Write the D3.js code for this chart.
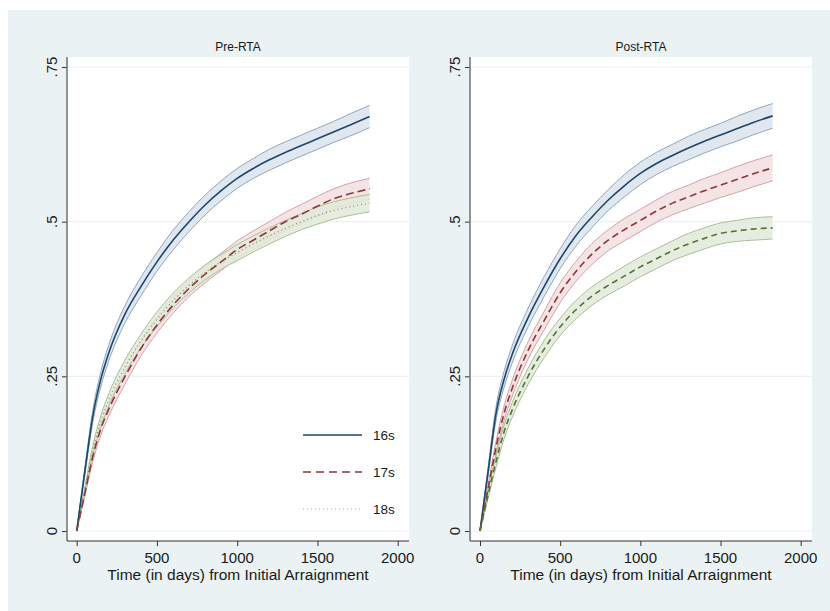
<!DOCTYPE html>
<html lang="en">
<head>
<meta charset="utf-8">
<title>cumulative incidence by age</title>
<script src="https://d3js.org/d3.v7.min.js"></script>
<style>
  body{margin:0;background:#fff;font-family:"Liberation Sans",Arial,Helvetica,sans-serif;}
  svg text{fill:#1a1a1a;}
</style>
</head>
<body>
<div id="chart"></div>
<script>
// days since initial arraignment at which the curves were read
var days = [0, 50, 100, 150, 200, 300, 400, 500, 600, 700, 800, 900, 1000, 1100, 1200, 1300, 1400, 1500, 1600, 1700, 1825]

// Pre-RTA estimates
var pre16 = [0, .095, .185, .245, .288, .350, .395, .435, .470, .500, .527, .550, .570, .586, .600, .612, .623, .634, .645, .656, .670]
var pre17 = [0, .060, .120, .165, .197, .249, .295, .333, .365, .392, .415, .435, .455, .470, .485, .500, .512, .525, .537, .545, .553]
var pre18 = [0, .065, .130, .177, .212, .265, .307, .342, .372, .397, .418, .435, .450, .464, .477, .489, .500, .510, .518, .524, .530]
// half width of the confidence bands
var pre16Ci = [0, .006, .010, .012, .013, .014, .015, .015, .016, .016, .016, .016, .016, .016, .017, .017, .017, .017, .017, .018, .018]
var pre17Ci = [0, .005, .008, .010, .011, .012, .012, .013, .013, .013, .014, .014, .014, .015, .015, .015, .016, .016, .016, .017, .017]
var pre18Ci = [0, .005, .008, .009, .010, .011, .011, .012, .012, .012, .012, .012, .013, .013, .013, .013, .013, .014, .014, .014, .014]

// Post-RTA estimates
var post16 = [0, .095, .190, .245, .285, .345, .395, .440, .478, .508, .535, .558, .578, .594, .607, .619, .630, .640, .650, .660, .671]
var post17 = [0, .068, .135, .190, .230, .292, .340, .385, .420, .448, .470, .487, .502, .517, .530, .540, .550, .559, .568, .577, .587]
var post18 = [0, .058, .112, .160, .195, .250, .294, .330, .358, .380, .397, .412, .427, .440, .453, .464, .473, .481, .485, .488, .490]
var post16Ci = [0, .007, .011, .013, .014, .015, .016, .016, .017, .017, .017, .018, .018, .018, .018, .019, .019, .019, .020, .020, .020]
var post17Ci = [0, .006, .010, .012, .013, .014, .015, .016, .016, .017, .017, .018, .018, .018, .019, .019, .020, .020, .021, .021, .021]
var post18Ci = [0, .006, .009, .011, .012, .013, .014, .014, .015, .015, .015, .016, .016, .016, .016, .017, .017, .017, .017, .018, .018]

var groups = ["16s", "17s", "18s"]
var xTicks = [0, 500, 1000, 1500, 2000]
var yTicks = [0, .25, .5, .75]
var xTitle = "Time (in days) from Initial Arraignment"

var w = 830, h = 611
var colors = {"16s": "#1a476f", "17s": "#90353b", "18s": "#55752f"}
var bandFill = {"16s": "#dbe3eb", "17s": "#f2dfe0", "18s": "#e2eadb"}
var bandEdge = {"16s": "#8ea6bf", "17s": "#d3a2a7", "18s": "#a9c093"}

var svg = d3.select("#chart").append("svg")
    .attr("width", w).attr("height", h)

// outer graph region
svg.append("rect").attr("x", 8).attr("y", 10).attr("width", w - 8).attr("height", h - 10)
    .attr("fill", "#eaf2f3")

var panels = [
  {title: "Pre-RTA", left: 67, right: 409, x0: 76.7, x1: 397.7,
   series: [pre16, pre17, pre18], ci: [pre16Ci, pre17Ci, pre18Ci],
   dash: ["", "8,4", "1,3"], legend: true},
  {title: "Post-RTA", left: 470, right: 812, x0: 480, x1: 800.7,
   series: [post16, post17, post18], ci: [post16Ci, post17Ci, post18Ci],
   dash: ["", "7,4", "6,4"], legend: false}
]

var plotTop = 57, plotBottom = 541

panels.forEach(function(p){
    var x = d3.scaleLinear().domain([0, 2000]).range([p.x0, p.x1])
    var y = d3.scaleLinear().domain([0, .75]).range([531, 67])
    var g = svg.append("g")

    g.append("rect").attr("x", p.left).attr("y", plotTop)
        .attr("width", p.right - p.left).attr("height", plotBottom - plotTop)
        .attr("fill", "#fff")

    // grid lines
    g.selectAll(".grid").data(yTicks).enter().append("line")
        .attr("x1", p.left).attr("x2", p.right)
        .attr("y1", function(d){ return y(d) }).attr("y2", function(d){ return y(d) })
        .attr("stroke", "#eaf2f3").attr("stroke-width", 1.2)

    // confidence bands
    var area = d3.area()
        .x(function(d){ return x(d.t) })
        .y0(function(d){ return y(d.v - d.c) })
        .y1(function(d){ return y(d.v + d.c) })
        .curve(d3.curveMonotoneX)
    var lineLo = d3.line().x(function(d){ return x(d.t) }).y(function(d){ return y(d.v - d.c) }).curve(d3.curveMonotoneX)
    var lineHi = d3.line().x(function(d){ return x(d.t) }).y(function(d){ return y(d.v + d.c) }).curve(d3.curveMonotoneX)
    var line = d3.line().x(function(d){ return x(d.t) }).y(function(d){ return y(d.v) }).curve(d3.curveMonotoneX)

    var rows = p.series.map(function(s, k){
        return days.map(function(t, i){ return {t: t, v: s[i], c: p.ci[k][i]} })
    })

    rows.forEach(function(r, k){
        var grp = groups[k]
        g.append("path").attr("d", area(r)).attr("fill", bandFill[grp]).attr("fill-opacity", .85)
        g.append("path").attr("d", lineLo(r)).attr("fill", "none").attr("stroke", bandEdge[grp]).attr("stroke-width", 1)
        g.append("path").attr("d", lineHi(r)).attr("fill", "none").attr("stroke", bandEdge[grp]).attr("stroke-width", 1)
    })
    rows.forEach(function(r, k){
        var grp = groups[k]
        g.append("path").attr("d", line(r)).attr("fill", "none")
            .attr("stroke", colors[grp]).attr("stroke-width", p.dash[k] == "1,3" ? 1.2 : 1.6)
            .attr("stroke-dasharray", p.dash[k])
            .attr("stroke-opacity", p.dash[k] == "1,3" ? .75 : 1)
    })

    // axes
    var yAxis = g.append("g").attr("transform", "translate(" + p.left + ",0)")
        .call(d3.axisLeft(y).tickValues(yTicks).tickSize(5).tickFormat(""))
    yAxis.select(".domain").remove()
    yAxis.selectAll("line").attr("stroke", "#333")
    g.append("line").attr("x1", p.left).attr("x2", p.left).attr("y1", plotTop).attr("y2", plotBottom)
        .attr("stroke", "#7a7a7a").attr("stroke-width", 1.6)
    g.selectAll(".ylab").data(yTicks).enter().append("text")
        .attr("transform", function(d){ return "translate(" + (p.left - 10) + "," + y(d) + ") rotate(-90)" })
        .attr("text-anchor", "middle").attr("font-size", 15)
        .text(function(d){ return d == 0 ? "0" : String(d).replace("0.", ".") })

    var xAxis = g.append("g").attr("transform", "translate(0," + plotBottom + ")")
        .call(d3.axisBottom(x).tickValues(xTicks).tickSize(5).tickFormat(""))
    xAxis.select(".domain").remove()
    xAxis.selectAll("line").attr("stroke", "#333")
    g.append("line").attr("x1", p.left).attr("x2", p.right).attr("y1", plotBottom).attr("y2", plotBottom)
        .attr("stroke", "#333").attr("stroke-width", 1.2)
    g.selectAll(".xlab").data(xTicks).enter().append("text")
        .attr("x", function(d){ return x(d) }).attr("y", 563)
        .attr("text-anchor", "middle").attr("font-size", 15)
        .text(function(d){ return d })

    g.append("text").attr("x", (p.left + p.right) / 2).attr("y", 580)
        .attr("text-anchor", "middle").attr("font-size", 15.5).text(xTitle)

    g.append("text").attr("x", (p.left + p.right) / 2).attr("y", 51)
        .attr("text-anchor", "middle").attr("font-size", 12)
        .attr("font-family", "'Liberation Sans Narrow','Liberation Sans',Arial")
        .attr("font-stretch", "condensed")
        .text(p.title)

    if(p.legend){
        var ly = d3.scalePoint().domain(groups).range([435, 509])
        groups.forEach(function(grp, k){
            g.append("line").attr("x1", 303).attr("x2", 362)
                .attr("y1", ly(grp)).attr("y2", ly(grp))
                .attr("stroke", k == 2 ? "#a3aa86" : colors[grp])
                .attr("stroke-width", k == 2 ? 1 : 1.6)
                .attr("stroke-dasharray", k == 1 ? "8,5" : (k == 2 ? "1,3" : ""))
            g.append("text").attr("x", 373).attr("y", ly(grp)).attr("dy", ".35em")
                .attr("font-size", 13.5).text(grp)
        })
    }
})
</script>
</body>
</html>
